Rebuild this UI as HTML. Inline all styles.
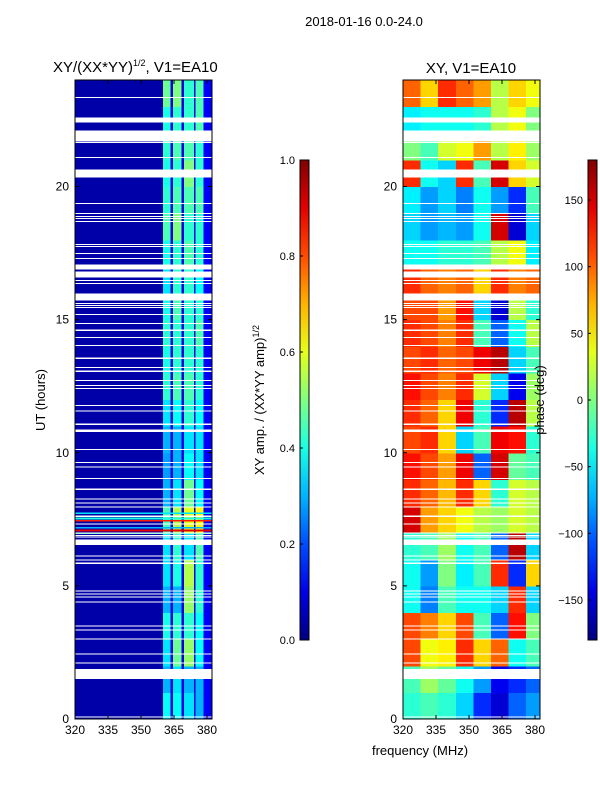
<!DOCTYPE html>
<html><head><meta charset="utf-8"><style>
body{margin:0;background:#fff;width:600px;height:800px;overflow:hidden;font-family:"Liberation Sans",sans-serif}
svg{position:absolute;left:0;top:0}
rect{shape-rendering:crispEdges}
</style></head><body>
<svg id="c" width="600" height="800" xmlns="http://www.w3.org/2000/svg"></svg>
<script>
// ---- data ----
const leftColEdges=[320,360,363.5,364.5,368.5,369.5,374,374.8,378.5,382.3];
const leftDark=0.04, leftLine=0.1, leftEdge=0.12;
const hours=[0,1,2,3,4,5,6,7,8,9,10,11,12,13,14,15,16,17,18,19,20,21,22,23];
const band1=[0.38,0.3,0.35,0.4,0.3,0.35,0.35,0.45,0.3,0.28,0.3,0.35,0.42,0.4,0.42,0.4,0.35,0.4,0.45,0.42,0.4,0.42,0.4,0.48];
const band2=[0.38,0.35,0.48,0.42,0.3,0.4,0.42,0.55,0.35,0.3,0.3,0.38,0.45,0.42,0.42,0.45,0.42,0.42,0.5,0.45,0.42,0.45,0.42,0.5];
const band3=[0.35,0.3,0.52,0.42,0.52,0.55,0.35,0.6,0.48,0.38,0.35,0.42,0.45,0.42,0.42,0.42,0.42,0.45,0.42,0.45,0.5,0.45,0.42,0.42];
const band4=[0.3,0.3,0.38,0.38,0.42,0.42,0.45,0.62,0.38,0.35,0.35,0.38,0.42,0.42,0.45,0.42,0.38,0.42,0.42,0.45,0.42,0.42,0.45,0.45];
const stripes=[[6.95,0.45],[7.05,0.9],[7.15,0.3],[7.42,0.85],[7.5,0.4],[7.7,0.35]];
const rightColEdges=[320,328,336,344,352,360,368,376,382.3];
const phase=[
[-30,-20,-30,-60,-120,-150,-100,-80],
[-20,10,-10,-40,-80,-140,-120,-100],
[110,40,50,120,60,100,-40,-20],
[110,90,60,110,-20,-100,130,0],
[-40,-90,-20,-40,-40,-60,120,-60],
[-40,-80,0,-50,-20,120,-120,60],
[-30,-20,10,-40,-20,-100,160,-60],
[150,80,60,40,20,10,30,20],
[120,100,70,120,60,-30,30,20],
[130,110,80,140,-100,150,-10,-20],
[110,120,60,-60,-20,140,130,-30],
[120,100,60,140,-30,-120,160,20],
[130,110,90,120,30,-60,-140,10],
[110,120,100,110,140,160,-60,-20],
[120,110,90,120,-20,-100,-40,20],
[110,110,80,130,-60,-150,20,-30],
[120,100,90,100,60,120,90,100],
[-40,-40,-30,-30,-20,20,40,-50],
[-60,-80,-70,-80,-40,150,-150,-60],
[-50,-80,-60,-90,-40,-80,-120,-20],
[120,-40,-60,120,-20,150,60,30],
[0,-20,30,40,80,20,50,10],
[-50,-40,-40,-40,-30,20,40,0],
[100,60,120,100,80,20,60,40]];
const gaps=[[0.06,0.1],[1.5,1.88],[2.08,2.12],[2.42,2.46],[2.98,3.02],[3.32,3.36],[3.47,3.51],[4.37,4.41],[4.56,4.6],[4.67,4.71],[4.78,4.82],[5.83,5.87],[5.95,5.99],[6.1,6.14],[6.53,6.75],[6.81,6.85],[6.88,6.92],[6.96,7.0],[7.3,7.34],[7.58,7.65],[7.94,7.98],[8.09,8.13],[8.24,8.28],[8.61,8.65],[9.02,9.06],[9.44,9.48],[9.62,9.66],[10.11,10.15],[10.77,10.88],[11.05,11.09],[11.54,11.58],[11.76,11.8],[12.4,12.44],[12.51,12.55],[12.7,12.74],[13.04,13.08],[13.19,13.23],[13.53,13.57],[14.01,14.05],[14.31,14.35],[14.58,14.62],[14.84,14.88],[15.18,15.22],[15.44,15.48],[15.51,15.55],[15.59,15.63],[15.72,15.98],[16.34,16.38],[16.45,16.49],[16.59,16.81],[16.89,17.07],[17.28,17.32],[17.47,17.51],[17.73,17.77],[17.8,17.84],[18.67,18.71],[18.78,18.82],[18.85,18.89],[18.97,19.01],[19.34,19.38],[20.34,20.64],[21.07,21.11],[21.63,21.67],[21.69,22.1],[22.4,22.59],[23.32,23.36]];
const cbarAmpTicks=[0,0.2,0.4,0.6,0.8,1.0];
const cbarPhTicks=[-150,-100,-50,0,50,100,150];
const xTicks=[320,335,350,365,380];
const yTicks=[0,5,10,15,20];

// ---- helpers ----
const NS="http://www.w3.org/2000/svg", svg=document.getElementById('c');
function jet(v){v=Math.max(0,Math.min(1,v));
 const f=t=>Math.round(255*Math.max(0,Math.min(1,1.5-Math.abs(4*v-t))));
 return `rgb(${f(3)},${f(2)},${f(1)})`;}
function el(tag,a,p){const e=document.createElementNS(NS,tag);for(const k in a)e.setAttribute(k,a[k]);(p||svg).appendChild(e);return e;}
function txt(s,a){const e=el('text',Object.assign({'font-family':'Liberation Sans, sans-serif','font-size':12,fill:'#000'},a));e.textContent=s;return e;}
const Y0=719,Y1=80;
const yS=h=>Y0-(h/24)*(Y0-Y1);
function xS(x0){return f=>x0+(f-320)*2.2;}
const xL=xS(75), xR=xS(403);

// ---- left heatmap ----
const gL=el('g',{});


hours.forEach((h,i)=>{
 const vals=[leftDark,band1[i],leftLine,band2[i],leftLine,band3[i],leftLine,band4[i],leftEdge];
 vals.forEach((v,j)=>{
  const r=el('rect',{x:xL(leftColEdges[j]),y:yS(h+1),width:xL(leftColEdges[j+1])-xL(leftColEdges[j])+0.5,height:yS(h)-yS(h+1)+0.5,fill:jet(v)},gL);
  
  
 });
});
stripes.forEach(s=>{
 const r=el('rect',{x:xL(320),y:yS(s[0]+0.06),width:xL(382.3)-xL(320),height:yS(s[0])-yS(s[0]+0.06),fill:jet(s[1])},gL);
 
 
});
// ---- right heatmap ----
const gR=el('g',{});


hours.forEach((h,i)=>{
 phase[i].forEach((v,j)=>{
  const r=el('rect',{x:xR(rightColEdges[j]),y:yS(h+1),width:xR(rightColEdges[j+1])-xR(rightColEdges[j])+0.5,height:yS(h)-yS(h+1)+0.5,fill:jet((v+180)/360)},gR);
  
  
 });
});
// gaps
[xL,xR].forEach(xs=>{gaps.forEach(g=>{
 const r=el('rect',{x:xs(320),y:yS(g[1]),width:137,height:Math.max(1,yS(g[0])-yS(g[1])),fill:'#fff'});
 
 
});});

// ---- axes ----
[[75,'left'],[403,'right']].forEach(([x0,nm])=>{
 const xs=xS(x0);
 const f=el('rect',{x:x0,y:Y1,width:137,height:Y0-Y1,fill:'none',stroke:'#000','stroke-width':1});
 
 
 xTicks.forEach(t=>{
  el('line',{x1:xs(t),x2:xs(t),y1:Y0,y2:Y0-4,stroke:'#000'});
  el('line',{x1:xs(t),x2:xs(t),y1:Y1,y2:Y1+4,stroke:'#000'});
  const l=txt(t,{x:xs(t),y:Y0+15,'text-anchor':'middle'});
  
  
 });
 yTicks.forEach(t=>{
  el('line',{x1:x0,x2:x0+4,y1:yS(t),y2:yS(t),stroke:'#000'});
  el('line',{x1:x0+137,x2:x0+133,y1:yS(t),y2:yS(t),stroke:'#000'});
  const l=txt(t,{x:x0-6,y:yS(t)+4,'text-anchor':'end'});
  
  
 });
});

// ---- colorbars ----
const defs=el('defs',{});
const gr=el('linearGradient',{id:'jetg',x1:0,y1:1,x2:0,y2:0},defs);
for(let i=0;i<=10;i++)el('stop',{offset:i/10,'stop-color':jet(i/10)},gr);
[[300,'amp'],[588,'phase']].forEach(([x,nm])=>{
 const r=el('rect',{x:x,y:160,width:9,height:480,fill:'url(#jetg)',stroke:'#000','stroke-width':1});
 
 
});
cbarAmpTicks.forEach(t=>{const y=640-t*480;
 el('line',{x1:300,x2:303,y1:y,y2:y,stroke:'#000'});
 const l=txt(t.toFixed(1),{x:295,y:y+4,'text-anchor':'end','font-size':11});
 
 
});
cbarPhTicks.forEach(t=>{const y=640-(t+180)/360*480;
 el('line',{x1:588,x2:591,y1:y,y2:y,stroke:'#000'});
 const l=txt(String(t).replace('-','\u2212'),{x:583,y:y+4,'text-anchor':'end','font-size':11});
 
 
});

// ---- texts ----
function named(e,n){return e;}
named(txt('2018-01-16 0.0-24.0',{x:364,y:26,'text-anchor':'middle','font-size':13}),'figure-title');
const t1=named(txt('XY/(XX*YY)',{x:53,y:72,'font-size':15}),'left-title');
el('tspan',{dy:-6,'font-size':9},t1).textContent='1/2';
el('tspan',{dy:6},t1).textContent=', V1=EA10';
named(txt('XY, V1=EA10',{x:471,y:73,'text-anchor':'middle','font-size':15}),'right-title');
named(txt('UT (hours)',{x:45,y:400,'text-anchor':'middle','font-size':13,transform:'rotate(-90 45 400)'}),'y-axis-title');
const cl=named(txt('XY amp. / (XX*YY amp)',{x:264,y:400,'text-anchor':'middle','font-size':13,transform:'rotate(-90 264 400)'}),'amp-colorbar-title');
el('tspan',{dy:-5,'font-size':9},cl).textContent='1/2';
named(txt('phase (deg)',{x:544,y:400,'text-anchor':'middle','font-size':13,transform:'rotate(-90 544 400)'}),'phase-colorbar-title');
named(txt('frequency (MHz)',{x:420,y:755,'text-anchor':'middle','font-size':13}),'x-axis-title');
</script>
</body></html>
